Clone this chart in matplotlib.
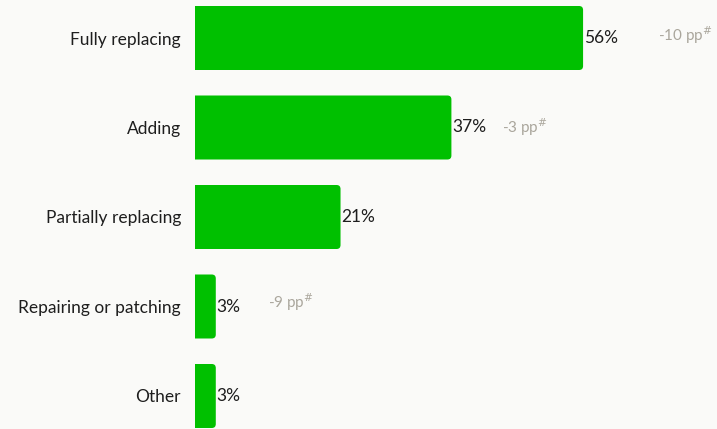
import matplotlib.pyplot as plt
from matplotlib.patches import FancyBboxPatch

categories = ["Fully replacing", "Adding", "Partially replacing", "Repairing or patching", "Other"]
shares = [56, 37, 21, 3, 3]
changes = ["-10 pp", "-3 pp", None, "-9 pp", None]
change_offsets = [75, 51, None, 52, None]  # px to the right of the bar end
change_dy = [3, 0, None, 4, None]

BG = "#fafaf8"
GREEN = "#00c000"
GREY = "#aaa69c"
DARK = "#1e1e1e"

plt.rcParams['font.family'] = ['Lato', 'DejaVu Sans']

fig = plt.figure(figsize=(7.17, 4.29), dpi=100, facecolor=BG)
ax = fig.add_axes([195 / 717, 0, 1 - 195 / 717, 1])
ax.set_facecolor(BG)

px_per_unit = 6.93
pitch = 89.5
ax.set_xlim(0, (717 - 195) / px_per_unit)
ax.set_ylim((429 - 38) / pitch, -38 / pitch)

bar_h = 64 / pitch
r = 4 / px_per_unit
for i, v in enumerate(shares):
    patch = FancyBboxPatch((-2, i - bar_h / 2), v + 2, bar_h,
                           boxstyle=f"round,pad=0,rounding_size={r}",
                           mutation_aspect=(4 / pitch) / r,
                           facecolor=GREEN, edgecolor="none")
    ax.add_patch(patch)
    ax.annotate(f"{v}%", (v, i), xytext=(1, 0), textcoords="offset pixels",
                va="center", ha="left", fontsize=12.5, color=DARK)
    if changes[i]:
        ax.annotate(changes[i] + r"$^{\#}$", (v, i),
                    xytext=(change_offsets[i], change_dy[i]), textcoords="offset pixels",
                    va="center", ha="left", fontsize=11, color=GREY)

ax.set_yticks(range(len(categories)))
ax.set_yticklabels(categories, fontsize=12.5, color=DARK)
ax.tick_params(axis="y", length=0, pad=10)
ax.set_xticks([])
for s in ax.spines.values():
    s.set_visible(False)

fig.savefig("out.png", dpi=100, facecolor=BG)
